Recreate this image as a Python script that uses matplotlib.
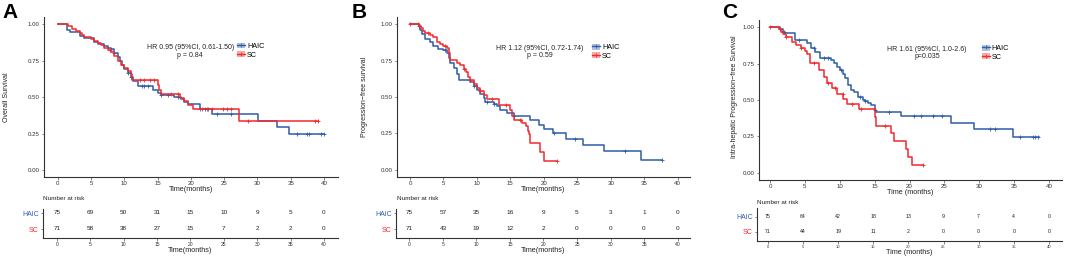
import numpy as np
import matplotlib
matplotlib.use("Agg")
import matplotlib.pyplot as plt
from matplotlib.patches import Patch
from matplotlib.lines import Line2D

plt.rcParams['font.family'] = ['Liberation Sans', 'DejaVu Sans']

W, H = 1065, 256
BLUE = "#2f5da6"
RED = "#f02a2e"
BLUE_LIGHT = "#aebfdf"
RED_LIGHT = "#f7a9a6"

ticks = [0, 5, 10, 15, 20, 25, 30, 35, 40]

# ---- panel A: overall survival ----
a_haic_t = [0, 1.35, 1.8, 3.35, 4.0, 5.5, 6.0, 7.0, 7.5, 8.0, 8.5, 9.0, 9.3, 9.7, 10.0,
            10.5, 11.0, 11.3, 12.1, 14.3, 15.0, 15.5, 17.5, 18.5, 19.0, 19.5, 21.4, 23.1,
            30.1, 33.0, 34.7, 40.0]
a_haic_s = [1.0, 0.963, 0.95, 0.918, 0.905, 0.878, 0.867, 0.853, 0.84, 0.827, 0.80, 0.773,
            0.747, 0.72, 0.693, 0.667, 0.64, 0.613, 0.574, 0.55, 0.527, 0.516, 0.50, 0.485,
            0.465, 0.45, 0.419, 0.382, 0.336, 0.293, 0.245, 0.245]
a_haic_cens = [8.5, 10.5, 11.0, 12.6, 13.0, 13.5, 15.5, 16.5, 18.0, 21.4, 22.1, 22.6, 23.9,
               26.1, 36.0, 37.4, 37.7, 39.5, 40.0]
a_sc_t = [0, 1.5, 2.2, 2.8, 3.3, 3.7, 4.0, 5.0, 5.5, 6.0, 6.5, 7.0, 7.5, 8.0, 8.5, 9.0, 9.5,
          10.0, 10.5, 11.0, 11.2, 15.0, 15.2, 15.5, 18.3, 19.0, 19.6, 20.3, 27.2, 39.1]
a_sc_s = [1.0, 0.986, 0.97, 0.955, 0.94, 0.925, 0.91, 0.90, 0.885, 0.87, 0.855, 0.84, 0.826,
          0.81, 0.78, 0.75, 0.72, 0.70, 0.68, 0.66, 0.62, 0.585, 0.55, 0.523, 0.495, 0.475,
          0.446, 0.419, 0.336, 0.336]
a_sc_cens = [7.8, 12.4, 13.0, 13.9, 14.4, 17.0, 18.0, 21.6, 22.4, 23.1, 24.9, 25.5, 26.0,
             28.6, 38.6, 39.1]
a_risk_haic = [75, 69, 50, 31, 15, 10, 9, 5, 0]
a_risk_sc = [71, 58, 38, 27, 15, 7, 2, 2, 0]

# ---- panel B: progression-free survival ----
b_haic_t = [0, 1.3, 1.5, 1.8, 2.2, 3.0, 3.5, 4.2, 5.0, 5.5, 5.8, 6.0, 6.5, 7.0, 7.3, 9.0,
            9.5, 10.0, 10.5, 11.0, 11.2, 12.5, 13.0, 13.5, 14.5, 15.5, 18.0, 19.3, 20.0,
            21.4, 23.3, 25.8, 29.0, 34.6, 37.6]
b_haic_s = [1.0, 0.987, 0.96, 0.93, 0.90, 0.876, 0.85, 0.83, 0.82, 0.80, 0.77, 0.73, 0.70,
            0.66, 0.618, 0.60, 0.575, 0.55, 0.52, 0.49, 0.465, 0.45, 0.435, 0.41, 0.39, 0.37,
            0.34, 0.31, 0.28, 0.25, 0.21, 0.17, 0.13, 0.068, 0.068]
b_haic_cens = [1.3, 5.2, 9.5, 11.5, 12.5, 15.5, 21.5, 24.6, 32.1, 37.6]
b_sc_t = [0, 1.3, 1.6, 2.0, 2.3, 3.0, 3.5, 4.0, 4.5, 5.0, 5.5, 5.8, 6.0, 7.0, 7.5, 8.0, 8.3,
          8.6, 9.0, 9.5, 10.0, 10.5, 11.0, 11.5, 13.3, 15.0, 15.2, 15.5, 16.8, 17.3, 17.6,
          17.8, 18.0, 19.4, 20.1, 22.0]
b_sc_s = [1.0, 0.985, 0.97, 0.955, 0.94, 0.925, 0.91, 0.88, 0.865, 0.85, 0.835, 0.80, 0.753,
          0.735, 0.72, 0.69, 0.67, 0.64, 0.615, 0.59, 0.565, 0.54, 0.515, 0.485, 0.445, 0.41,
          0.37, 0.34, 0.32, 0.30, 0.27, 0.245, 0.185, 0.125, 0.063, 0.063]
b_sc_cens = [0, 1.2, 2.7, 5.2, 8.0, 9.0, 10.5, 12.2, 14.3, 16.5, 22.0]
b_risk_haic = [75, 57, 35, 16, 9, 5, 3, 1, 0]
b_risk_sc = [71, 43, 19, 12, 2, 0, 0, 0, 0]

# ---- panel C: intra-hepatic progression-free survival ----
c_haic_t = [0, 1.5, 1.8, 2.2, 3.6, 5.3, 5.9, 6.5, 7.2, 8.8, 9.2, 9.6, 10.0, 10.4, 10.8,
            11.2, 11.6, 12.0, 12.6, 13.3, 13.6, 14.0, 14.5, 15.0, 15.2, 18.8, 25.9, 29.2,
            34.8, 38.5]
c_haic_s = [1.0, 0.985, 0.97, 0.96, 0.91, 0.89, 0.86, 0.83, 0.79, 0.775, 0.755, 0.73,
            0.705, 0.68, 0.65, 0.60, 0.57, 0.555, 0.52, 0.50, 0.49, 0.48, 0.466, 0.43, 0.42,
            0.39, 0.345, 0.30, 0.245, 0.245]
c_haic_cens = [2.0, 4.2, 6.3, 7.8, 8.3, 10.2, 12.9, 13.6, 15.0, 17.0, 20.7, 21.6, 23.3,
               24.7, 31.6, 32.2, 35.8, 37.7, 38.0, 38.4]
c_sc_t = [0, 1.3, 1.6, 1.9, 2.3, 3.1, 3.7, 4.5, 5.0, 5.3, 5.7, 7.0, 7.8, 8.2, 8.9, 9.6,
          10.5, 11.0, 12.8, 15.0, 15.2, 17.3, 17.8, 19.5, 19.8, 20.3, 22.0]
c_sc_s = [1.0, 0.985, 0.97, 0.955, 0.935, 0.90, 0.88, 0.855, 0.835, 0.815, 0.752, 0.706,
          0.66, 0.614, 0.58, 0.54, 0.51, 0.472, 0.436, 0.386, 0.32, 0.275, 0.22, 0.16, 0.11,
          0.055, 0.055]
c_sc_cens = [0, 1.5, 2.3, 4.5, 6.3, 8.3, 9.3, 10.4, 11.8, 13.0, 16.5, 22.0]
c_risk_haic = [75, 64, 42, 18, 13, 9, 7, 4, 0]
c_risk_sc = [71, 44, 19, 11, 2, 0, 0, 0, 0]


def px_axes(fig, left, top, right, bottom):
    return fig.add_axes([left / W, 1 - bottom / H, (right - left) / W, (bottom - top) / H])


def style_axes(ax, tick_size):
    for s in ['top', 'right']:
        ax.spines[s].set_visible(False)
    for s in ['left', 'bottom']:
        ax.spines[s].set_color('#333333')
        ax.spines[s].set_linewidth(0.8)
    ax.tick_params(length=1.8, width=0.5, color='#555555', pad=1.2,
                   labelsize=tick_size, labelcolor='#333333')


def km(ax, t, s, cens, color):
    ax.step(t, s, where='post', color=color, lw=1.1)
    t = np.array(t)
    s = np.array(s)
    idx = np.searchsorted(t, cens, side='right') - 1
    ax.plot(cens, s[idx], ls='none', marker='+', ms=2.6, mew=0.6, color=color)


fig = plt.figure(figsize=(W / 100, H / 100), dpi=100)

panels = [
    dict(letter='A', lx=2, main=(44, 17, 338, 177), xlim=(-2.06, 42.1), ylim=(-0.048, 1.05),
         table=(43, 209, 338, 238), tylim=(-0.5625, 1.25), ylab='Overall Survival', ylx=7,
         hr='HR 0.95 (95%CI, 0.61-1.50)\np = 0.84', hrpos=(19.9, 0.813), legpos=(26.9, 0.875),
         nar=(43, 199), xlab='Time(months)', tsize=3.6, nsize=4.6,
         data=(a_haic_t, a_haic_s, a_haic_cens, a_sc_t, a_sc_s, a_sc_cens),
         risk=(a_risk_haic, a_risk_sc)),
    dict(letter='B', lx=352, main=(396.7, 17, 690, 177), xlim=(-1.99, 41.85), ylim=(-0.048, 1.048),
         table=(396, 209, 690, 238), tylim=(-0.5625, 1.25), ylab='Progression\u2212free survival',
         ylx=364, hr='HR 1.12 (95%CI, 0.72-1.74)\np = 0.59', hrpos=(19.4, 0.81),
         legpos=(27.2, 0.865), nar=(396.7, 199), xlab='Time(months)', tsize=3.6, nsize=4.6,
         data=(b_haic_t, b_haic_s, b_haic_cens, b_sc_t, b_sc_s, b_sc_cens),
         risk=(b_risk_haic, b_risk_sc)),
    dict(letter='C', lx=722, main=(759, 20, 1062, 180), xlim=(-1.58, 41.86), ylim=(-0.05, 1.05),
         table=(756.7, 208, 1062, 241), tylim=(-0.62, 1.58),
         ylab='Intra-hepatic Progression\u2212free Survival', ylx=734,
         hr='HR 1.61 (95%CI, 1.0-2.6)\np=0.035', hrpos=(22.5, 0.825), legpos=(30.35, 0.88),
         nar=(757, 203), xlab='Time (months)', tsize=3.0, nsize=3.8,
         data=(c_haic_t, c_haic_s, c_haic_cens, c_sc_t, c_sc_s, c_sc_cens),
         risk=(c_risk_haic, c_risk_sc)),
]

for p in panels:
    ax = px_axes(fig, *p['main'])
    style_axes(ax, 4.4)
    ht, hs, hc, st, ss, sc = p['data']
    km(ax, ht, hs, hc, BLUE)
    km(ax, st, ss, sc, RED)
    ax.set_xlim(*p['xlim'])
    ax.set_ylim(*p['ylim'])
    ax.set_xticks(ticks)
    ax.set_yticks([0, 0.25, 0.5, 0.75, 1.0])
    ax.set_yticklabels(['0.00', '0.25', '0.50', '0.75', '1.00'])
    ax.set_xlabel(p['xlab'], fontsize=5.2, labelpad=0, color='#222222')
    ax.text(*p['hrpos'], p['hr'], fontsize=5.0, ha='center', va='center',
            multialignment='center', linespacing=1.05, color='#222222')
    handles = [(Patch(facecolor=BLUE_LIGHT, edgecolor='none'),
                Line2D([0], [0], color=BLUE, lw=1.0, marker='+', ms=2.5, mew=0.6)),
               (Patch(facecolor=RED_LIGHT, edgecolor='none'),
                Line2D([0], [0], color=RED, lw=1.0, marker='+', ms=2.5, mew=0.6))]
    ax.legend(handles, ['HAIC', 'SC'], loc='upper left', bbox_to_anchor=p['legpos'],
              bbox_transform=ax.transData, frameon=False, fontsize=5.2, borderpad=0,
              borderaxespad=0, labelspacing=0.15, handlelength=1.1, handleheight=0.9,
              handletextpad=0.3)

    fig.text(p['lx'] / W, 1 - 12 / H, p['letter'], fontsize=15, fontweight='bold',
             ha='left', va='center')
    fig.text(p['ylx'] / W, 1 - 97 / H, p['ylab'], rotation=90, fontsize=5.0,
             ha='center', va='center', color='#222222')

    # risk table
    tb = px_axes(fig, *p['table'])
    style_axes(tb, p['tsize'])
    tb.set_xlim(*p['xlim'])
    tb.set_ylim(*p['tylim'])
    tb.set_xticks(ticks)
    tb.set_yticks([1, 0])
    tb.set_yticklabels(['HAIC', 'SC'], fontsize=5.0)
    tb.get_yticklabels()[0].set_color(BLUE)
    tb.get_yticklabels()[1].set_color(RED)
    tb.set_xlabel(p['xlab'], fontsize=5.2, labelpad=0, color='#222222')
    for row, vals in ((1, p['risk'][0]), (0, p['risk'][1])):
        for tx, v in zip(ticks, vals):
            tb.text(tx, row, str(v), fontsize=p['nsize'], ha='center', va='center',
                    color='#222222')
    fig.text(p['nar'][0] / W, 1 - p['nar'][1] / H, 'Number at risk', fontsize=4.6,
             ha='left', va='center', color='#222222')

fig.savefig('out.png', dpi=100)
